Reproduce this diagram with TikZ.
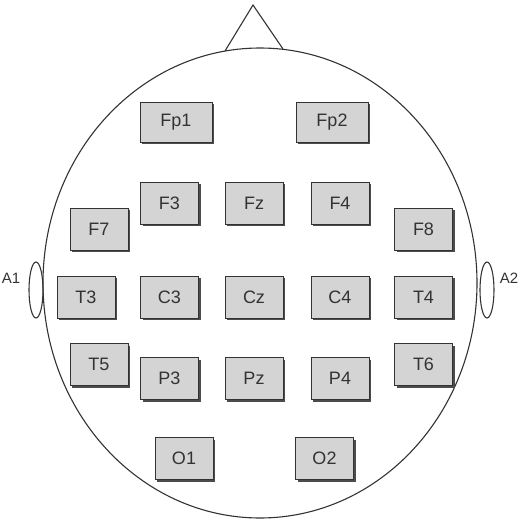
\documentclass[tikz,border=0pt]{standalone}
\usepackage{fontspec}
\setmainfont{Liberation Sans}
\usetikzlibrary{shadows}

\tikzset{
  electrode/.style={draw=black!80, fill=black!17, line width=1pt,
    minimum width=58pt, minimum height=42pt, inner sep=0pt,
    text=black!80, font=\fontsize{18}{18}\selectfont,
    drop shadow={shadow xshift=2pt, shadow yshift=-2pt, fill=black!70, opacity=1}},
  frontal/.style={electrode, minimum width=72pt, minimum height=40pt},
  earlabel/.style={text=black!80, font=\fontsize{15}{15}\selectfont, inner sep=0pt}
}

\begin{document}
\begin{tikzpicture}[x=1pt, y=-1pt, line width=1.1pt]
\useasboundingbox (0,0) rectangle (520,525);

% Define dimensions
\def\cx{260}   % head centre x
\def\cy{283}   % head centre y
\def\rx{217}   % head half-width
\def\ry{235}   % head half-height

% Head outline
\draw[black!80] (\cx,\cy) ellipse [x radius=\rx, y radius=\ry];

% Nose
\draw[black!80] (225,51) -- (253,5) -- (283,49);

% Ears
\draw[black!80] (36,290) ellipse [x radius=7, y radius=28];
\draw[black!80] (487,290) ellipse [x radius=7, y radius=28];
\node[earlabel] (a1) at (11,278) {A1};
\node[earlabel] (a2) at (509,278) {A2};

% Frontal pole
\node[frontal] (fp1) at (176,122) {Fp1};
\node[frontal] (fp2) at (332,122) {Fp2};

% Frontal row
\node[electrode] (f7) at (99,229) {F7};
\node[electrode] (f3) at (169.5,203) {F3};
\node[electrode] (fz) at (254,203) {Fz};
\node[electrode] (f4) at (340,203) {F4};
\node[electrode] (f8) at (423.5,229) {F8};

% Central row
\node[electrode] (t3) at (86,297) {T3};
\node[electrode] (c3) at (169.5,297) {C3};
\node[electrode] (cz) at (254,297) {Cz};
\node[electrode] (c4) at (340,297) {C4};
\node[electrode] (t4) at (423.5,297) {T4};

% Parietal row
\node[electrode] (t5) at (99,364.5) {T5};
\node[electrode] (p3) at (169.5,378.5) {P3};
\node[electrode] (pz) at (254,378.5) {Pz};
\node[electrode] (p4) at (340,378.5) {P4};
\node[electrode] (t6) at (423.5,364.5) {T6};

% Occipital
\node[electrode] (o1) at (184,458.5) {O1};
\node[electrode] (o2) at (324.5,458.5) {O2};

\end{tikzpicture}
\end{document}
